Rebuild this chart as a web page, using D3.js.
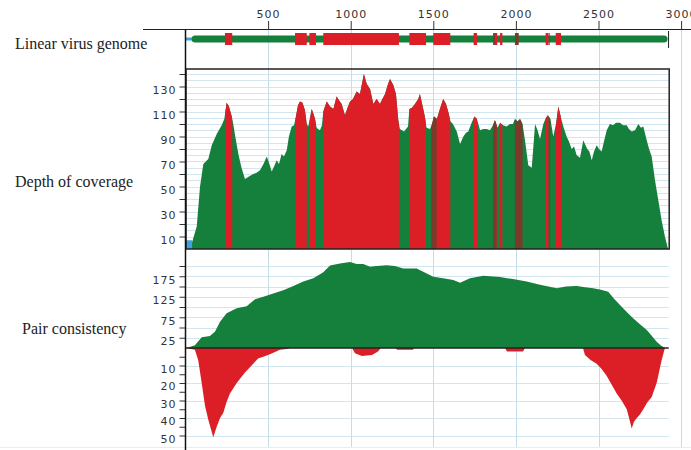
<!DOCTYPE html>
<html><head><meta charset="utf-8">
<script src="https://cdn.jsdelivr.net/npm/d3@7"></script>
<style>body{margin:0;background:#fff}svg{display:block}</style>
</head><body>
<svg id="chart" width="691" height="450"></svg>
<script>
// Read depth along the genome (bp position, depth)
const depthPos = [39,68,88,108,138,159,189,219,235,249,263,280,289,300,320,339,360,384,410,430,451,472,492,508,522,536,552,566,582,596,613,626,643,657,667,681,693,708,723,734,743,754,764,775,784,794,802,814,826,834,855,875,895,915,929,945,965,981,996,1014,1036,1056,1080,1097,1117,1137,1157,1177,1192,1208,1226,1238,1258,1274,1288,1298,1323,1347,1355,1371,1389,1409,1419,1439,1450,1459,1480,1492,1504,1522,1540,1560,1577,1592,1604,1619,1642,1662,1682,1698,1712,1732,1749,1764,1783,1801,1823,1843,1861,1873,1889,1904,1922,1944,1964,1982,1994,2010,2025,2040,2055,2075,2096,2116,2131,2146,2166,2182,2194,2209,2226,2243,2257,2273,2287,2307,2321,2338,2352,2368,2388,2408,2418,2432,2445,2459,2473,2489,2503,2519,2533,2550,2569,2588,2606,2630,2648,2671,2684,2701,2721,2741,2757,2771,2792,2806,2822,2842,2862,2882,2902,2921];
const depthVal = [5,18,50,68,72,83,92,99,104,117,114,106,100,91,76,65,56,58,60,61,63,68,74,68,62,66,71,68,76,74,79,90,98,99,105,115,118,117,111,100,98,105,112,108,104,97,96,95,99,110,118,114,112,122,119,116,107,113,118,120,126,124,140,132,128,116,120,116,120,124,132,136,131,124,103,96,94,98,112,113,116,120,124,112,105,97,96,100,106,104,112,120,116,109,102,100,94,84,90,93,94,101,106,104,95,96,96,95,99,103,97,101,99,98,100,100,104,102,104,100,87,67,65,100,95,88,100,105,107,104,90,100,114,105,98,90,86,80,82,75,73,87,84,80,78,71,78,83,80,78,86,95,100,99,101,101,99,99,96,94,95,100,97,98,87,80,74,55,39,23,10,0];

// Consistent read pairs (plotted upward)
const pairPos = [7,57,98,148,179,209,249,310,370,421,471,531,592,653,713,774,834,875,935,996,1036,1076,1117,1157,1218,1268,1318,1399,1439,1500,1560,1621,1662,1722,1803,1904,1982,2065,2146,2247,2303,2368,2418,2468,2515,2559,2594,2630,2671,2711,2751,2792,2822,2852,2878,2902];
const pairVal = [0,7,26,29,40,64,85,97,102,119,125,133,141,151,162,170,185,201,206,210,205,205,198,200,202,200,194,194,186,174,170,166,159,170,176,173,168,162,154,146,150,151,148,146,142,137,120,105,88,72,58,44,30,15,6,0];

// Inconsistent read pairs (plotted downward)
const badPos = [3,57,77,98,118,138,159,168,189,209,229,248,269,310,360,410,439,471,511,572,613,633,1008,1026,1068,1129,1165,1183,1274,1280,1377,1383,1934,1946,2043,2055,2406,2418,2454,2489,2519,2550,2580,2610,2640,2671,2685,2701,2715,2732,2751,2771,2796,2822,2852,2866,2882,2902];
const badVal = [0,1,7,20,33,41,48,51,45,40,37,31,26,20,14,9,6,5,3.5,1,0.5,0,0,3,4.5,4,2,0,0,1,1,0,0,2,2,0,0,4,7,9,12,16,21,26,30,35,40,46,42,40,38,35,31,28,20,14,7,0];

// Annotated genome segments (bp)
const redRegions = [[239,283],[663,734],[750,790],[834,1292],[1355,1456],[1500,1603],[1744,1765],[1869,1887],[1904,1918],[2180,2198],[2241,2273]];
const darkRegions = [[1488,1520],[1862,1884],[1994,2040],[2200,2207]];
const startRegion = [0, 40];
const genomeEnd = 2915;

const xTicks = [500,1000,1500,2000,2500,3000];
const depthTicks = d3.range(10, 141, 10);
const depthLabels = [10,30,50,70,90,110,130];
const pairUpTicks = d3.range(25, 201, 25);
const pairUpLabels = [25,75,125,175];
const pairDownTicks = d3.range(5, 51, 5);
const pairDownLabels = [10,20,30,40,50];
const titles = ["Linear virus genome", "Depth of coverage", "Pair consistency"];

const GREEN = "#157f3c", RED = "#dc1f26", DARK = "#7a3b2a", BLUE = "#3ea3dc";
const GRID = "#d3e6ef", VGRID = "#c6dde8";

const svg = d3.select("#chart");
const x = d3.scaleLinear().domain([0, 3000]).range([185.5, 681.1]);

const yDepth = d3.scaleLinear().domain([0, 144]).range([249, 69]);
const yUp = d3.scaleLinear().domain([0, 200]).range([348, 266]);
const yDown = d3.scaleLinear().domain([0, 50]).range([348, 435.5]);

const plotL = x(0), plotR = x(2925);

// frame line along bottom
svg.append("line").attr("x1", 0).attr("x2", 691).attr("y1", 447.5).attr("y2", 447.5)
  .attr("stroke", "#e6eef2").attr("stroke-width", 1);

// horizontal grid
const grid = svg.append("g").attr("stroke", GRID).attr("stroke-width", 1);
d3.range(5, 145, 5).forEach(v => grid.append("line").attr("x1", plotL).attr("x2", plotR)
  .attr("y1", Math.round(yDepth(v)) + 0.5).attr("y2", Math.round(yDepth(v)) + 0.5));
pairUpTicks.forEach(v => grid.append("line").attr("x1", plotL).attr("x2", plotR)
  .attr("y1", Math.round(yUp(v)) + 0.5).attr("y2", Math.round(yUp(v)) + 0.5));
pairDownLabels.forEach(v => grid.append("line").attr("x1", plotL).attr("x2", plotR)
  .attr("y1", Math.round(yDown(v)) + 0.5).attr("y2", Math.round(yDown(v)) + 0.5));

// vertical grid
xTicks.forEach(t => svg.append("line").attr("x1", Math.round(x(t)) + 0.5).attr("x2", Math.round(x(t)) + 0.5)
  .attr("y1", 29).attr("y2", 447).attr("stroke", VGRID).attr("stroke-width", 1));

// top axis
const topAxis = svg.append("g").attr("transform", "translate(0,29)")
  .call(d3.axisTop(x).tickValues(xTicks).tickSize(8).tickSizeOuter(0).tickPadding(3).tickFormat(d3.format("d")));
topAxis.select(".domain").remove();
svg.append("line").attr("x1", 143).attr("x2", 691).attr("y1", 29.5).attr("y2", 29.5).attr("stroke", "#222");

// genome track
const gTrack = svg.append("g");
gTrack.append("line").attr("x1", x(startRegion[0])).attr("x2", x(startRegion[1]))
  .attr("y1", 39).attr("y2", 39).attr("stroke", BLUE).attr("stroke-width", 3);
gTrack.append("line").attr("x1", x(startRegion[1]) + 3).attr("x2", x(genomeEnd) - 3)
  .attr("y1", 39).attr("y2", 39).attr("stroke", GREEN).attr("stroke-width", 7).attr("stroke-linecap", "round");
gTrack.selectAll("rect.red").data(redRegions).join("rect").attr("class", "red")
  .attr("x", d => x(d[0])).attr("width", d => x(d[1]) - x(d[0]))
  .attr("y", 33).attr("height", 12).attr("fill", RED);
gTrack.selectAll("rect.dark").data(darkRegions.filter(d => d[0] > 1800)).join("rect").attr("class", "dark")
  .attr("x", d => x(d[0])).attr("width", d => Math.max(1.5, x(d[1]) - x(d[0])) * 0.5)
  .attr("y", 33).attr("height", 12).attr("fill", DARK);
gTrack.append("line").attr("x1", x(genomeEnd) + 1.5).attr("x2", x(genomeEnd) + 1.5)
  .attr("y1", 31).attr("y2", 48).attr("stroke", "#222");

// clip paths for annotated segments
const defs = svg.append("defs");
const clipRed = defs.append("clipPath").attr("id", "clipRed");
redRegions.forEach(d => clipRed.append("rect").attr("x", x(d[0])).attr("width", x(d[1]) - x(d[0]))
  .attr("y", 0).attr("height", 450));
const clipDark = defs.append("clipPath").attr("id", "clipDark");
darkRegions.forEach(d => clipDark.append("rect").attr("x", x(d[0])).attr("width", x(d[1]) - x(d[0]))
  .attr("y", 0).attr("height", 450));

// depth of coverage
const depthData = depthPos.map((p, i) => [p, depthVal[i]]);
const depthArea = d3.area().x(d => x(d[0])).y0(yDepth(0)).y1(d => yDepth(d[1]));
const gDepth = svg.append("g");
gDepth.append("path").datum(depthData).attr("d", depthArea).attr("fill", GREEN);
gDepth.append("path").datum(depthData).attr("d", depthArea).attr("fill", RED).attr("clip-path", "url(#clipRed)");
gDepth.append("path").datum(depthData).attr("d", depthArea).attr("fill", DARK).attr("clip-path", "url(#clipDark)");
gDepth.append("rect").attr("x", x(startRegion[0])).attr("width", x(startRegion[1]) - x(startRegion[0]))
  .attr("y", yDepth(7)).attr("height", yDepth(0) - yDepth(7)).attr("fill", BLUE);

// depth frame
svg.append("rect").attr("x", 186).attr("y", 69).attr("width", plotR + 0.5 - 186).attr("height", 180)
  .attr("fill", "none").attr("stroke", "#222").attr("stroke-width", 1.5);

// pair consistency
const upData = pairPos.map((p, i) => [p, pairVal[i]]);
const downData = badPos.map((p, i) => [p, badVal[i]]);
svg.append("path").datum(upData)
  .attr("d", d3.area().x(d => x(d[0])).y0(yUp(0)).y1(d => yUp(d[1])))
  .attr("fill", GREEN);
svg.append("path").datum(downData)
  .attr("d", d3.area().x(d => x(d[0])).y0(yDown(0)).y1(d => yDown(d[1])))
  .attr("fill", RED);
svg.append("line").attr("x1", 186).attr("x2", plotR).attr("y1", 348).attr("y2", 348)
  .attr("stroke", "#222").attr("stroke-width", 1.5);

// left axes
function leftAxis(scale, ticks, labels) {
  const g = svg.append("g").attr("transform", "translate(185.5,0)")
    .call(d3.axisLeft(scale).tickValues(ticks).tickSize(6).tickSizeOuter(0).tickPadding(3)
      .tickFormat(v => labels.includes(v) ? v : ""));
  g.select(".domain").remove();
  g.selectAll("text").attr("dy", "0.72em").attr("y", 0).attr("transform", "translate(0,-1)");
  return g;
}
leftAxis(yDepth, depthTicks, depthLabels);
leftAxis(yUp, pairUpTicks, pairUpLabels);
leftAxis(yDown, pairDownTicks, pairDownLabels);

svg.append("line").attr("x1", 185.5).attr("x2", 185.5).attr("y1", 29).attr("y2", 450)
  .attr("stroke", "#111").attr("stroke-width", 1.5);

svg.selectAll(".tick line").attr("stroke", "#333");
svg.selectAll(".tick text").attr("font-family", "DejaVu Sans, Verdana, sans-serif")
  .attr("font-size", 11).attr("letter-spacing", 1).attr("fill", "#333");

// panel titles
const titleY = [49, 187, 334], titleX = [15, 15, 22];
svg.selectAll("text.title").data(titles).join("text").attr("class", "title")
  .attr("x", (d, i) => titleX[i]).attr("y", (d, i) => titleY[i])
  .attr("font-family", "Liberation Serif, Times New Roman, serif").attr("font-size", 16)
  .attr("fill", "#222").text(d => d);
</script>
</body></html>
